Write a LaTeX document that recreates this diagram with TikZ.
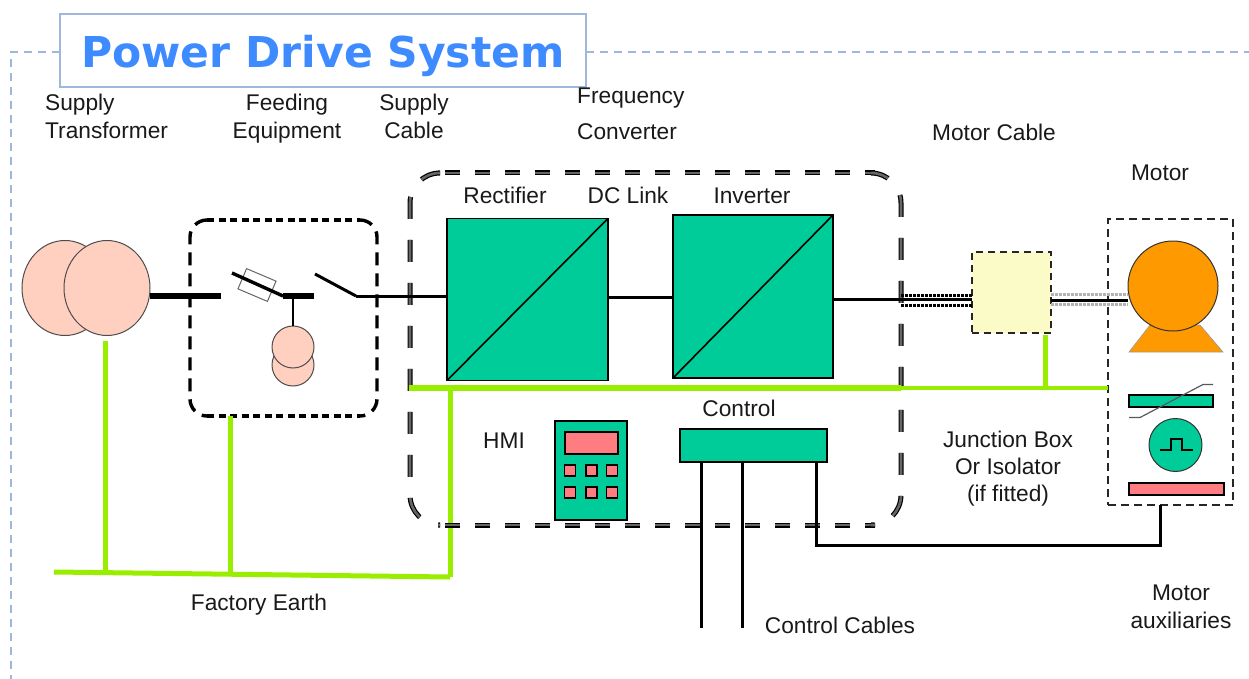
\documentclass[tikz,border=0pt]{standalone}
\usepackage{fontspec}
\setmainfont{Liberation Sans}
\newfontfamily\titlefont{DejaVu Sans}
\usepackage{xcolor}
\usepackage{tikz}
\usetikzlibrary{shapes.geometric, arrows}
\definecolor{convgreen}{HTML}{00CC99}
\definecolor{earthgreen}{HTML}{99EE00}
\definecolor{keyred}{HTML}{FF7C80}
\definecolor{peach}{HTML}{FFD0C0}
\definecolor{motororange}{HTML}{FF9900}
\definecolor{titleblue}{HTML}{3D8BFF}
\definecolor{frameblue}{HTML}{9DB8DC}
\definecolor{boxyellow}{HTML}{FBFBC8}
\tikzstyle{lbl} = [inner sep=0pt, text=black!90, font=\fontsize{22.7}{28}\selectfont, align=center]
\tikzstyle{greenbox} = [rectangle, draw=black, fill=convgreen, line width=1.6pt, inner sep=0pt, outer sep=0pt]
\tikzstyle{converter} = [greenbox, minimum width=161pt, minimum height=162pt]
\tikzstyle{redbox} = [rectangle, draw=black, fill=keyred, line width=1.6pt, inner sep=0pt, outer sep=0pt]
\tikzstyle{hmikey} = [redbox, minimum width=11pt, minimum height=11pt]
\tikzstyle{peachcirc} = [circle, draw=black!70, fill=peach, line width=1pt, inner sep=0pt, outer sep=0pt]
\tikzstyle{xfmrcoil} = [ellipse, draw=black!70, fill=peach, line width=1pt, inner sep=0pt, outer sep=0pt, minimum width=86pt, minimum height=95pt]
\tikzstyle{wire} = [black, line width=3pt]
\tikzstyle{busbar} = [black, line width=6pt]
\tikzstyle{ctrlwire} = [black, line width=3pt]
\tikzstyle{earth} = [earthgreen, line width=5pt]
\tikzstyle{earththin} = [earthgreen, line width=3.5pt]
\tikzstyle{scrn} = [black, line width=3pt, dash pattern=on 3pt off 1pt]
\tikzstyle{scrnfade} = [black!30, line width=3pt, dash pattern=on 3pt off 1pt]
\tikzstyle{framedash} = [frameblue, line width=1.6pt, dash pattern=on 8pt off 6pt]
\tikzstyle{feeddash} = [black, line width=3.4pt]
\tikzset{convdash/.style={black!60, line width=2.6pt, dash pattern=#1, preaction={draw=black, line width=5pt, dash pattern=#1}}}
\begin{document}
\begin{tikzpicture}[x=1pt,y=-1pt]
   \useasboundingbox (0,0) rectangle (1249,679);
   % outer frame
   \coordinate (frametl) at (11,52);
   \coordinate (framebl) at (11,679);
   \coordinate (frametr) at (1249,52);
   \node (title) [rectangle, draw=frameblue, fill=white, line width=1.6pt, minimum width=526pt, minimum height=73pt, inner sep=0pt, outer sep=0pt, text=titleblue, text height=45pt, text depth=10pt, font=\titlefont\bfseries\fontsize{42.5}{50}\selectfont] at (323,50.5) {Power Drive System};
   \draw [framedash] (title.west |- frametl) -- (frametl) -- (framebl);
   \draw [framedash] (title.east |- frametr) -- (frametr);
   % dashed enclosures
   \node (feedbox) [rectangle, minimum width=187pt, minimum height=196pt, outer sep=0pt] at (283.5,318) {};
   \draw [feeddash, dash pattern=on 7pt off 4.5pt] (feedbox.north -| 207,0) -- (feedbox.north -| 360,0);
   \draw [feeddash, dash pattern=on 7pt off 4.5pt] (feedbox.south -| 207,0) -- (feedbox.south -| 360,0);
   \draw [feeddash, dash pattern=on 13pt off 8pt, rounded corners=17pt] (feedbox.north -| 207,0) -- (feedbox.north west) -- (feedbox.south west) -- (feedbox.south -| 207,0);
   \draw [feeddash, dash pattern=on 13pt off 8pt, rounded corners=17pt] (feedbox.north -| 360,0) -- (feedbox.north east) -- (feedbox.south east) -- (feedbox.south -| 360,0);
   \node (motorbox) [rectangle, draw=black!85, line width=1.6pt, dash pattern=on 8pt off 5pt, minimum width=125pt, minimum height=286pt, outer sep=0pt] at (1170.5,362) {};
   % earth
   \coordinate (earthl) at (54,572);
   \coordinate (earthr) at (450,577);
   \coordinate (earthx) at (105,572.6);
   \coordinate (earthtop) at (105,341);
   \coordinate (earthf) at (230,574);
   \coordinate (gridl) at (409,388);
   \coordinate (gridm) at (901,388);
   \coordinate (gridj) at (1045,388);
   \coordinate (gridc) at (450,388);
   \draw [earth] (gridc) -- (earthr);
   \draw [earth] (earthl) -- (earthr);
   \draw [earth] (earthtop) -- (earthx);
   \draw [earth] (feedbox.south -| earthf) -- (earthf);
   % transformer
   \node (xfmrl) [xfmrcoil] at (65,288) {};
   \node (xfmrr) [xfmrcoil] at (107,288) {};
   \coordinate (busl) at (150,296);
   \coordinate (busle) at (221,296);
   \draw [busbar] (busl) -- (busle);
   % feeding equipment
   \coordinate (fusel) at (232,273);
   \coordinate (busm) at (283,296);
   \coordinate (busme) at (314,296);
   \coordinate (swl) at (315,274);
   \coordinate (swr) at (356,296);
   \node (fuse) [rectangle, rotate=-23, draw=black!60, fill=white, line width=1pt, minimum width=32pt, minimum height=22pt, outer sep=0pt] at (257,285) {};
   \draw [black, line width=3.4pt] (fusel) -- (busm);
   \draw [busbar] (busm) -- (busme);
   \node (auxb) [peachcirc, minimum size=42pt] at (293,365) {};
   \node (auxa) [peachcirc, minimum size=42pt] at (293,347) {};
   \draw [black, line width=1.6pt] (293,296) -- (auxa);
   % frequency converter
   \node (convbox) [rectangle, minimum width=491pt, minimum height=352pt, outer sep=0pt] at (655.5,349) {};
   \draw [convdash={on 15pt off 15pt}] (convbox.north -| 445,0) -- (convbox.north -| 875,0);
   \draw [convdash={on 15pt off 15pt}] (convbox.south -| 445,0) -- (convbox.south -| 875,0);
   \draw [convdash={on 22pt off 21pt}, rounded corners=30pt] (convbox.north -| 438,0) -- (convbox.north west) -- (convbox.south west) -- (convbox.south -| 438,0);
   \draw [convdash={on 22pt off 21pt}, rounded corners=30pt] (convbox.north -| 875,0) -- (convbox.north east) -- (convbox.south east) -- (convbox.south -| 875,0);
   \node (rect) [converter] at (527.5,299.5) {};
   \node (inv) [converter, minimum width=160pt, minimum height=163pt] at (753,296.5) {};
   \draw [black, line width=1.6pt] (rect.south west) -- (rect.north east);
   \draw [black, line width=1.6pt] (inv.south west) -- (inv.north east);
   \draw [wire] (swl) -- (swr);
   \draw [wire] (swr) -- (rect.west |- swr);
   \draw [wire] (rect.east |- 0,297) -- (inv.west |- 0,297);
   % junction box and motor
   \node (jbox) [rectangle, draw=black!85, fill=boxyellow, line width=1.6pt, dash pattern=on 7pt off 5pt, minimum width=79pt, minimum height=81pt, outer sep=0pt] at (1011.5,292.5) {};
   \fill [motororange, draw=black!40, line width=.6pt] (1150,325) -- (1129,352) -- (1223,352) -- (1200,325) -- cycle;
   \node (mot) [circle, draw=black!80, fill=motororange, line width=1pt, minimum size=90pt, inner sep=0pt, outer sep=0pt] at (1173,286) {};
   \draw [scrn] (901,295) -- (jbox.west |- 0,295);
   \draw [scrn] (901,305.5) -- (jbox.west |- 0,305.5);
   \draw [scrnfade] (jbox.east |- 0,294.5) -- (mot.west |- 0,294.5);
   \draw [scrnfade] (jbox.east |- 0,304.5) -- (mot.west |- 0,304.5);
   \draw [wire] (inv.east |- 0,299) -- (jbox.west |- 0,299);
   \draw [wire] (jbox.east |- 0,300) -- (mot.west |- 0,300);
   % earth bars over the converter
   \draw [earth, line width=6pt] (gridl) -- (gridm);
   \draw [earththin] (gridm) -- (motorbox.west |- gridm);
   \draw [earth] (jbox.south -| gridj) ++(0,2) -- (gridj);
   % hmi and control
   \node (hmi) [greenbox, minimum width=72pt, minimum height=99pt] at (591,470.5) {};
   \node (screen) [redbox, minimum width=53pt, minimum height=22pt] at (591.5,443) {};
   \foreach \kx in {570,591.5,612}
      \foreach \ky in {470.5,492.5}
         \node [hmikey] at (\kx,\ky) {};
   \node (ctrl) [greenbox, minimum width=147pt, minimum height=33pt] at (753.5,445.5) {};
   \coordinate (cablea) at (701,628);
   \coordinate (cableb) at (742,628);
   \coordinate (corner) at (816,545);
   \draw [ctrlwire] (ctrl.south -| cablea) -- (cablea);
   \draw [ctrlwire] (ctrl.south -| cableb) -- (cableb);
   % motor auxiliaries
   \node (heater) [greenbox, minimum width=84pt, minimum height=12pt] at (1171,401) {};
   \draw [black!65, line width=1.2pt] (1129,417.5) -- (1140,417.5) -- (1203,384.5) -- (1213,384.5);
   \node (pulse) [circle, draw=black!80, fill=convgreen, line width=1pt, minimum size=53pt, inner sep=0pt, outer sep=0pt] at (1175.5,445) {};
   \draw [black, line width=1.4pt] (1160,450) -- (1171,450) -- (1171,439) -- (1182,439) -- (1182,450) -- (1193,450);
   \node (auxbar) [redbox, minimum width=95pt, minimum height=12pt] at (1176.5,489) {};
   \draw [ctrlwire] (ctrl.south -| corner) -- (corner) -- (corner -| 1160,0) -- (motorbox.south -| 1160,0);
   % labels
   \node (lblxf) [lbl, align=left, anchor=west] at (45,116) {Supply\\Transformer};
   \node (lblfe) [lbl] at (287,118.5) {Feeding\\Equipment};
   \node (lblsc) [lbl] at (414,116) {Supply\\Cable};
   \node (lblfc) [lbl, align=left, anchor=west, font=\fontsize{22.7}{36}\selectfont] at (577,114) {Frequency\\Converter};
   \node (lblmc) [lbl] at (994,132) {Motor Cable};
   \node (lblmo) [lbl] at (1160,173) {Motor};
   \node (lblre) [lbl] at (505,195.5) {Rectifier};
   \node (lbldc) [lbl] at (628,195.5) {DC Link};
   \node (lblin) [lbl] at (752,195.5) {Inverter};
   \node (lblhm) [lbl] at (504,441) {HMI};
   \node (lblct) [lbl] at (739,408.5) {Control};
   \node (lbljb) [lbl, font=\fontsize{22.7}{27}\selectfont] at (1008,469) {Junction Box\\Or Isolator\\(if fitted)};
   \node (lblfa) [lbl] at (259,605) {Factory Earth};
   \node (lblcc) [lbl] at (840,625.5) {Control Cables};
   \node (lblau) [lbl] at (1181,607) {Motor\\auxiliaries};
\end{tikzpicture}
\end{document}
